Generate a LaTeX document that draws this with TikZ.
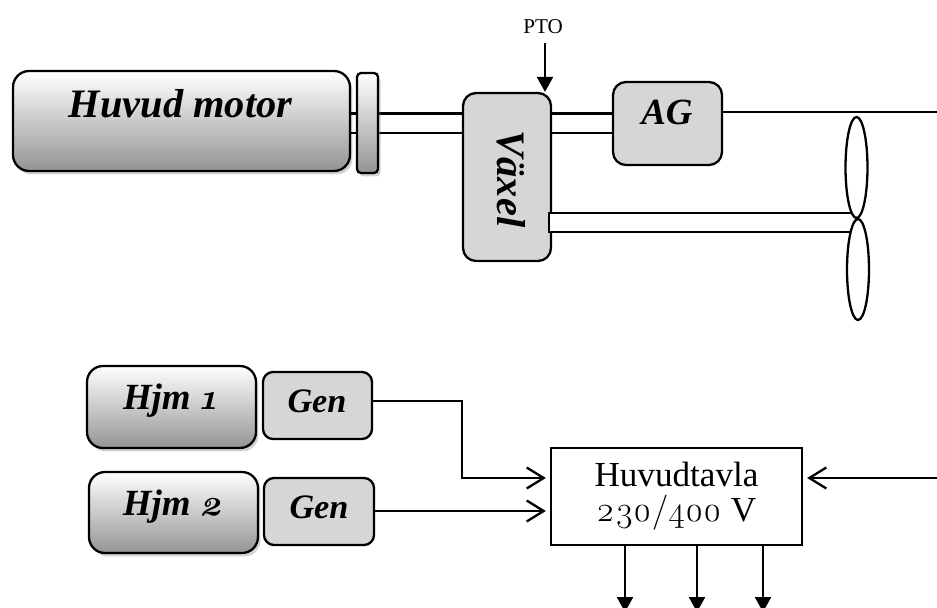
\documentclass[tikz,border=0pt]{standalone}
\usepackage{fontspec}
\setmainfont{Liberation Serif}
\newfontfamily\oldfig[Numbers=OldStyle]{Latin Modern Roman}
\usepackage{tikz}
\usetikzlibrary{shapes.geometric,arrows.meta,shadows}
\begin{document}
\begin{tikzpicture}[
        x=0.02cm, y=-0.02cm,
        line width=0.046cm,
        bigtext/.style={font=\fontsize{23}{26}\selectfont\bfseries\itshape, inner sep=0pt},
        smalltext/.style={font=\fontsize{21}{24}\selectfont\bfseries\itshape, inner sep=0pt},
        gentext/.style={font=\fontsize{19.5}{24}\selectfont\bfseries\itshape, inner sep=0pt},
        engine/.style={rectangle, draw, rounded corners=0.32cm, top color=white, bottom color=black!42,
            drop shadow={shadow xshift=0.05cm, shadow yshift=-0.07cm, opacity=0.35}, inner sep=0pt},
        unit/.style={rectangle, draw, rounded corners=0.26cm, fill=black!16, inner sep=0pt},
        blade/.style={ellipse, draw, inner sep=0pt, minimum width=0.44cm, minimum height=2.02cm},
        feed/.style={-{Straight Barb[length=0.34cm, width=0.42cm]}, shorten >=0.08cm},
        load/.style={-{Triangle[length=0.3cm, width=0.32cm]}}
    ]
        \useasboundingbox (0,0) rectangle (937,608);

        % main line
        \node[engine, minimum width=6.74cm, minimum height=2cm] (motor) at (181.5,121) {};
        \node[bigtext] (motortxt) at (180.5,103.5) {Huvud motor};
        \node[unit, minimum width=1.76cm, minimum height=3.36cm] (vaxel) at (507,177) {};
        \node[bigtext, rotate=-90] (vaxeltxt) at (511,179) {Växel};
        \node[unit, minimum width=2.18cm, minimum height=1.66cm] (ag) at (667.5,123.5) {};
        \node[smalltext] (agtxt) at (667,112) {AG};

        \foreach \y in {113.5,133} {
            \draw (motor.east |- 0,\y) -- (vaxel.west |- 0,\y);
            \draw (vaxel.east |- 0,\y) -- (ag.west |- 0,\y);
        }
        \node[engine, rounded corners=0.08cm, minimum width=0.42cm, minimum height=2cm] (flange) at (367.5,123) {};

        \coordinate (shaftend) at (937,112);
        \draw (ag.east |- shaftend) -- (shaftend);

        \node[font=\fontsize{12}{14}\selectfont, inner sep=0pt] (pto) at (543,27) {PTO};
        \coordinate (ptotop) at (545,43);
        \draw[load] (ptotop) -- (vaxel.north -| ptotop);

        % propeller
        \coordinate (pa) at (852,213);
        \coordinate (pb) at (850,232);
        \coordinate (pc) at (549,232);
        \coordinate (pd) at (549,213);
        \draw[fill=white] (pa) -- (pd) -- (pc) -- (pb);
        \node[blade] (blade1) at (856.5,167.5) {};
        \node[blade] (blade2) at (858,269.5) {};

        % auxiliary sets
        \node[engine, minimum width=3.38cm, minimum height=1.64cm] (hjm1) at (171.5,407) {};
        \node[smalltext] (hjm1txt) at (170,401) {Hjm {\oldfig 1}};
        \node[engine, minimum width=3.38cm, minimum height=1.62cm] (hjm2) at (173.5,512.5) {};
        \node[smalltext] (hjm2txt) at (173,507) {Hjm {\oldfig 2}};
        \node[unit, rounded corners=0.2cm, minimum width=2.18cm, minimum height=1.34cm] (gen1) at (317.5,405.5) {};
        \node[gentext] (gen1txt) at (317,401) {Gen};
        \node[unit, rounded corners=0.2cm, minimum width=2.2cm, minimum height=1.34cm] (gen2) at (319,511.5) {};
        \node[gentext] (gen2txt) at (319,507) {Gen};

        \node[rectangle, draw, fill=white, minimum width=5.02cm, minimum height=1.94cm, inner sep=0pt, align=center,
            font=\fontsize{20}{20}\selectfont] (tavla) at (676.5,496.5) {Huvudtavla\\{\oldfig 230/400} V};

        \coordinate (bend) at (462,401);
        \coordinate (supply) at (937,478);
        \draw[feed] (gen1.east |- bend) -- (bend) |- (tavla.west |- supply);
        \draw[feed] (gen2.east |- 0,511) -- (tavla.west |- 0,511);
        \draw[feed] (supply) -- (tavla.east |- supply);

        \foreach \x in {625,697,763} {
            \coordinate (out\x) at (\x,612);
            \draw[load] (tavla.south -| out\x) -- (out\x);
        }
    \end{tikzpicture}
\end{document}
